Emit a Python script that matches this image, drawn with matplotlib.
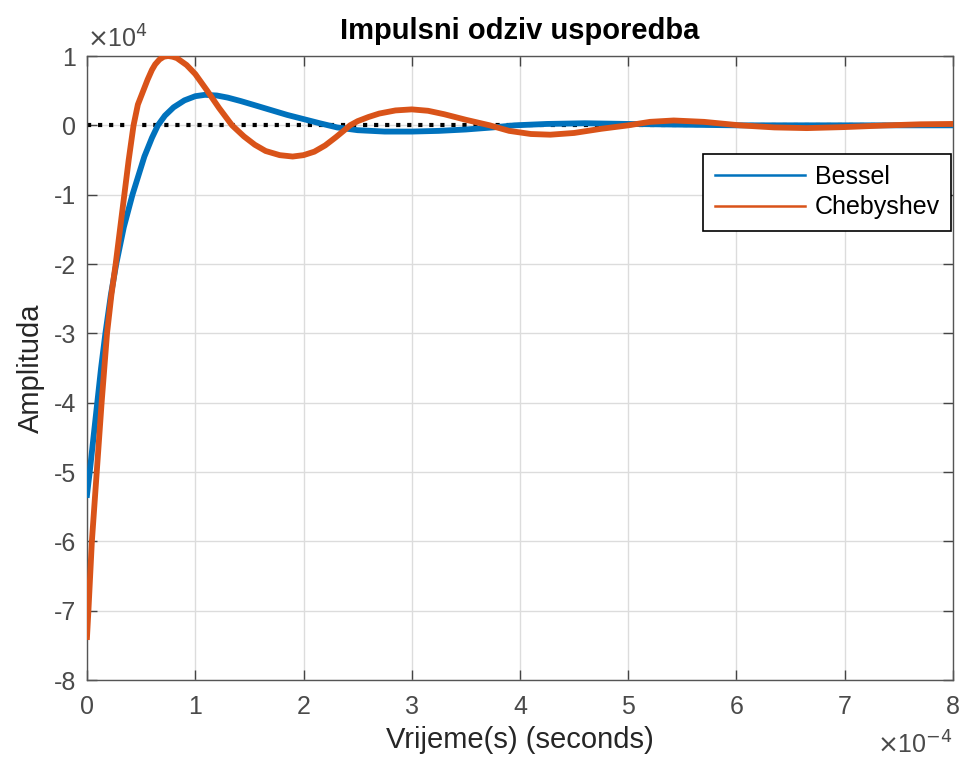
import numpy as np
import matplotlib
matplotlib.use("Agg")
import matplotlib.pyplot as plt
from matplotlib.lines import Line2D

plt.rcParams['font.family'] = ['Liberation Sans', 'DejaVu Sans']
plt.rcParams['axes.unicode_minus'] = False

# time in units of 1e-4 s, amplitude in units of 1e4
t_bessel = [0.0, 0.012, 0.025, 0.06, 0.095, 0.13, 0.17, 0.22, 0.27, 0.34, 0.42, 0.48,
            0.53, 0.6, 0.655, 0.72, 0.8, 0.9, 1.0, 1.09, 1.2, 1.3, 1.42, 1.55, 1.7,
            1.85, 2.0, 2.15, 2.31, 2.5, 2.75, 3.0, 3.25, 3.5, 3.75, 3.95, 4.25, 4.6,
            5.0, 5.5, 6.0, 7.0, 8.0]
bessel = [-5.33, -5.17, -5.0, -4.5, -4.0, -3.5, -3.0, -2.45, -2.0, -1.47, -1.0, -0.7,
          -0.45, -0.18, 0.0, 0.14, 0.26, 0.36, 0.42, 0.44, 0.43, 0.40, 0.35, 0.29, 0.22,
          0.15, 0.09, 0.03, -0.03, -0.07, -0.09, -0.09, -0.08, -0.06, -0.03, 0.0, 0.02,
          0.03, 0.02, 0.01, 0.0, 0.0, 0.0]

t_cheby = [0.0, 0.013, 0.045, 0.09, 0.135, 0.185, 0.225, 0.265, 0.305, 0.345, 0.385,
           0.43, 0.47, 0.52, 0.56, 0.6, 0.63, 0.67, 0.71, 0.75, 0.79, 0.83, 0.92, 1.0,
           1.11, 1.22, 1.34, 1.45, 1.55, 1.65, 1.78, 1.9, 2.0, 2.1, 2.2, 2.3, 2.37, 2.43,
           2.5, 2.6, 2.7, 2.85, 3.0, 3.15, 3.3, 3.5, 3.72, 3.9, 4.1, 4.28, 4.5, 4.75, 5.0,
           5.2, 5.42, 5.7, 6.03, 6.35, 6.65, 7.0, 7.4, 7.7, 8.0]
cheby = [-7.38, -7.0, -6.0, -5.0, -4.0, -3.0, -2.45, -2.0, -1.5, -1.0, -0.5,
         0.0, 0.3, 0.5, 0.66, 0.8, 0.88, 0.95, 0.99, 1.0, 0.99, 0.97, 0.87, 0.74,
         0.5, 0.25, 0.0, -0.16, -0.28, -0.37, -0.43, -0.45, -0.43, -0.38, -0.29, -0.17, -0.08, 0.0,
         0.06, 0.12, 0.17, 0.215, 0.23, 0.21, 0.16, 0.08, 0.0, -0.08, -0.125, -0.135, -0.11, -0.05, 0.0,
         0.05, 0.07, 0.05, 0.0, -0.03, -0.04, -0.025, 0.0, 0.015, 0.02]

xticks = [0, 1, 2, 3, 4, 5, 6, 7, 8]
yticks = [1, 0, -1, -2, -3, -4, -5, -6, -7, -8]

blue = '#0072BD'
orange = '#D95319'
tick_gray = '#4a4a4a'

fig = plt.figure(figsize=(9.62, 7.6), dpi=100)
ax = fig.add_axes([87 / 962, 1 - 680 / 760, 866 / 962, 624 / 760])

ax.plot([0, 8], [0, 0], ':', color='black', lw=3, zorder=2)
ax.plot(t_bessel, bessel, color=blue, lw=4.2, zorder=3, solid_joinstyle='round')
ax.plot(t_cheby, cheby, color=orange, lw=4.2, zorder=4, solid_joinstyle='round')

ax.set_xlim(0, 8)
ax.set_ylim(-8, 1)
ax.set_xticks(xticks)
ax.set_yticks(yticks)
ax.set_xticklabels([str(v) for v in xticks])
ax.set_yticklabels([str(v) for v in yticks])
ax.grid(True, color='#dcdcdc', lw=1)
ax.set_axisbelow(True)
ax.tick_params(direction='in', length=7, width=1, color='#444444', labelcolor=tick_gray,
               labelsize=18, top=True, right=True)
ax.tick_params(axis='x', pad=11)
ax.tick_params(axis='y', pad=8)
for s in ax.spines.values():
    s.set_color('#555555')
    s.set_linewidth(1)

ax.set_title('Impulsni odziv usporedba', fontsize=21, fontweight='bold', pad=12)
ax.set_xlabel('Vrijeme(s) (seconds)', fontsize=21, color='#262626', labelpad=5)
ax.set_ylabel('Amplituda', fontsize=21, color='#262626', labelpad=6)

# exponent labels, MATLAB style
ax.text(0.0, 1.005, r'$\times$10$^{4}$', transform=ax.transAxes, fontsize=18,
        color=tick_gray, ha='left', va='bottom')
ax.text(1.0, -(754 - 680) / 624, r'$\times$10$^{-4}$', transform=ax.transAxes,
        fontsize=18, color=tick_gray, ha='right', va='baseline')

handles = [Line2D([], [], color=blue, lw=1.8), Line2D([], [], color=orange, lw=1.8)]
leg = ax.legend(handles, ['Bessel', 'Chebyshev'], loc='upper right',
                bbox_to_anchor=(0.9977, 0.843), borderaxespad=0, fontsize=18,
                frameon=True, fancybox=False, edgecolor='black', handlelength=3.6,
                handletextpad=0.4, labelspacing=0.25, borderpad=0.45)
leg.get_frame().set_linewidth(1.2)
leg.get_frame().set_alpha(1)

fig.savefig('out.png', dpi=100)
